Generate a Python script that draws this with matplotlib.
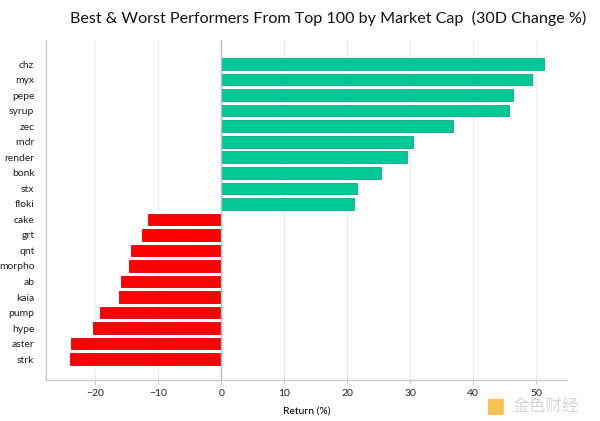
import matplotlib.pyplot as plt

# coins, top (best) to bottom (worst)
coins = ['chz', 'myx', 'pepe', 'syrup', 'zec', 'rndr', 'render', 'bonk', 'stx', 'floki',
         'cake', 'grt', 'qnt', 'morpho', 'ab', 'kaia', 'pump', 'hype', 'aster', 'strk']
changes = [51.2, 49.4, 46.3, 45.7, 36.8, 30.4, 29.5, 25.3, 21.5, 21.1,
           -11.6, -12.6, -14.3, -14.6, -15.9, -16.3, -19.2, -20.3, -23.9, -24.1]
xticks = [-20, -10, 0, 10, 20, 30, 40, 50]

green = '#00C896'
red = '#FF0000'

plt.rcParams['font.family'] = ['Lato', 'DejaVu Sans']

fig = plt.figure(figsize=(6, 4.21), dpi=100)
ax = fig.add_axes([0.076, 0.097, 0.869, 0.808])

ypos = list(range(len(coins)))[::-1]
colors = [green if v >= 0 else red for v in changes]
edges = ['#10A882' if v >= 0 else '#E00000' for v in changes]
ax.barh(ypos, changes, height=0.75, color=colors, edgecolor=edges, linewidth=0.6, zorder=3)

ax.set_yticks(ypos)
ax.set_yticklabels(coins)
ax.set_xticks(xticks)
ax.set_xticklabels(['\u221220', '\u221210', '0', '10', '20', '30', '40', '50'])
ax.set_xlim(-27.9, 54.9)
ax.set_ylim(-1.35, 20.55)

ax.axvline(0, color='#BBBBBB', linewidth=1.0, zorder=4)
ax.grid(axis='x', color='#EEEEEE', linewidth=0.8, zorder=0)
ax.set_axisbelow(True)

for s in ['top', 'right']:
    ax.spines[s].set_visible(False)
for s in ['left', 'bottom']:
    ax.spines[s].set_color('#CCCCCC')
    ax.spines[s].set_linewidth(1.0)

ax.tick_params(axis='y', length=0, pad=8, labelsize=7.5, labelcolor='#222222')
ax.tick_params(axis='x', length=3, color='#CCCCCC', labelsize=7.5, labelcolor='#222222')

ax.set_xlabel('Return (%)', fontsize=7.5, labelpad=6)
fig.suptitle('Best & Worst Performers From Top 100 by Market Cap  (30D Change %)',
             x=0.547, y=0.975, fontsize=11.6, color='#111111')

# watermark
fig.text(0.825, 0.035, '\u25a0', fontsize=15, color='#F5B52A', alpha=0.8, ha='center', va='center')
fig.text(0.91, 0.035, '金色财经', fontsize=12, color='#CCCCCC', alpha=0.8,
         ha='center', va='center', family=['Noto Sans CJK SC', 'DejaVu Sans'])

fig.savefig('out.png', dpi=100)
